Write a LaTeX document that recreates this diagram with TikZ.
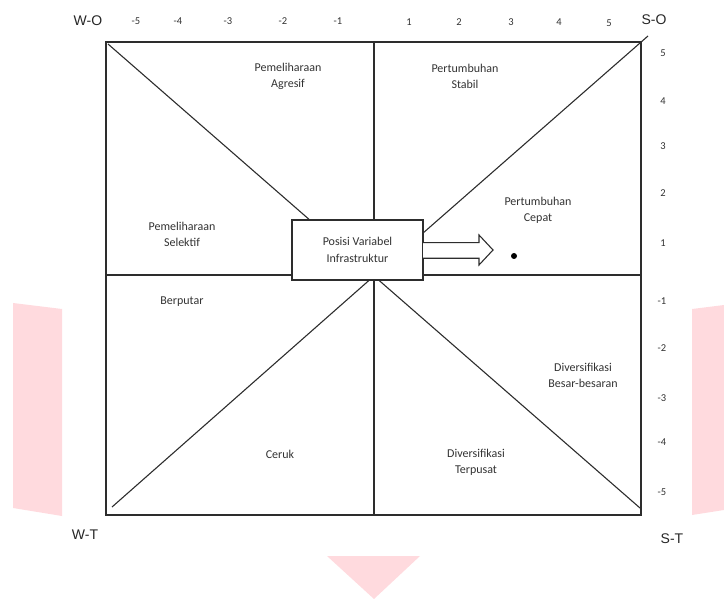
\documentclass[tikz,border=0pt]{standalone}
\usepackage{fontspec}
\setmainfont{Carlito}
\newfontfamily\arialfont{Liberation Sans}
\definecolor{wmpink}{RGB}{255,218,222}
\definecolor{linegray}{RGB}{45,45,45}
\definecolor{txtgray}{RGB}{50,50,50}
\begin{document}
\begin{tikzpicture}[x=1pt,y=-1pt,
  frame/.style={draw=linegray,line width=1.3pt},
  thinline/.style={draw=linegray,line width=1.1pt},
  qlabel/.style={font=\fontsize{12}{16}\selectfont,text=txtgray,align=center,inner sep=0pt},
  numlabel/.style={font=\fontsize{10.5}{12}\selectfont,text=txtgray,inner sep=0pt},
  cornerlabel/.style={font=\arialfont\fontsize{14}{16}\selectfont,text=black!85,inner sep=0pt},
  posbox/.style={draw=linegray,line width=1.2pt,fill=white,minimum width=131pt,minimum height=60pt,align=center,font=\fontsize{12}{17}\selectfont,text=txtgray,inner sep=0pt}]
\useasboundingbox (0,0) rectangle (724,599);
% watermark shapes
\fill[wmpink] (13,303) -- (62,309) -- (62,516) -- (13,508) -- cycle;
\fill[wmpink] (692,309) -- (724,305) -- (724,510) -- (692,515) -- cycle;
\fill[wmpink] (327,556) -- (420,556) -- (374,599) -- cycle;
% frame coordinates
\coordinate (TL) at (106,42);
\coordinate (TR) at (641,42);
\coordinate (BL) at (106,515);
\coordinate (BR) at (641,515);
\coordinate (C) at (374,276);
\coordinate (TopMid) at (374,42);
\coordinate (BotMid) at (374,515);
\coordinate (LeftMid) at (106,275);
\coordinate (RightMid) at (641,275);
\coordinate (ExtTR) at (648,36);
\coordinate (StartTL) at (108,44);
\coordinate (StartBL) at (112,507);
\coordinate (EndBR) at (640,508);
% square
\draw[frame] (TL) rectangle (BR);
% axes
\draw[thinline] (TopMid) -- (BotMid);
\draw[thinline] (LeftMid) -- (RightMid);
% diagonals
\draw[thinline] (StartTL) -- (C);
\draw[thinline] (ExtTR) -- (C);
\draw[thinline] (StartBL) -- (C);
\draw[thinline] (C) -- (EndBR);
% centre box
\node[posbox] (box) at (357.5,250) {Posisi Variabel\\Infrastruktur};
% block arrow
\coordinate (A1) at (423,242.7);
\coordinate (A2) at (479,242.7);
\coordinate (A3) at (479,235);
\coordinate (Tip) at (493,250);
\coordinate (A5) at (479,265);
\coordinate (A6) at (479,258.3);
\coordinate (A7) at (423,258.3);
\fill[white] (A1) -- (A2) -- (A3) -- (Tip) -- (A5) -- (A6) -- (A7) -- cycle;
\draw[draw=linegray,line width=1.1pt,line join=miter] (A1) -- (A2) -- (A3) -- (Tip) -- (A5) -- (A6) -- (A7);
% dot
\fill[black] (514,256) circle (3pt);
\node[inner sep=0pt] (dot) at (514,256) {};
% quadrant labels
\node[qlabel] (pa) at (288,76) {Pemeliharaan\\Agresif};
\node[qlabel] (ps) at (465,76) {Pertumbuhan\\Stabil};
\node[qlabel] (pc) at (538,210) {Pertumbuhan\\Cepat};
\node[qlabel] (psel) at (182,234) {Pemeliharaan\\Selektif};
\node[qlabel] (bp) at (182,302) {Berputar};
\node[qlabel] (db) at (583,375) {Diversifikasi\\Besar-besaran};
\node[qlabel] (ck) at (280,454) {Ceruk};
\node[qlabel] (dt) at (476,462) {Diversifikasi\\Terpusat};
% corner labels
\node[cornerlabel] (wo) at (88,21) {W-O};
\node[cornerlabel] (so) at (654,20) {S-O};
\node[cornerlabel] (wt) at (85,535) {W-T};
\node[cornerlabel] (st) at (672,539) {S-T};
% top numbers
\node[numlabel] (tm5) at (136,21) {-5};
\node[numlabel] (tm4) at (178,21) {-4};
\node[numlabel] (tm3) at (228,21) {-3};
\node[numlabel] (tm2) at (283,21) {-2};
\node[numlabel] (tm1) at (338,21) {-1};
\node[numlabel] (tp1) at (409,22) {1};
\node[numlabel] (tp2) at (459,22) {2};
\node[numlabel] (tp3) at (511,22) {3};
\node[numlabel] (tp4) at (559,22) {4};
\node[numlabel] (tp5) at (609,23) {5};
% right numbers
\node[numlabel] (rp5) at (663,53) {5};
\node[numlabel] (rp4) at (663,101) {4};
\node[numlabel] (rp3) at (663,146) {3};
\node[numlabel] (rp2) at (663,193) {2};
\node[numlabel] (rp1) at (663,243) {1};
\node[numlabel] (rm1) at (662,301) {-1};
\node[numlabel] (rm2) at (662,348) {-2};
\node[numlabel] (rm3) at (662,398) {-3};
\node[numlabel] (rm4) at (662,442) {-4};
\node[numlabel] (rm5) at (662,492) {-5};
\end{tikzpicture}
\end{document}
